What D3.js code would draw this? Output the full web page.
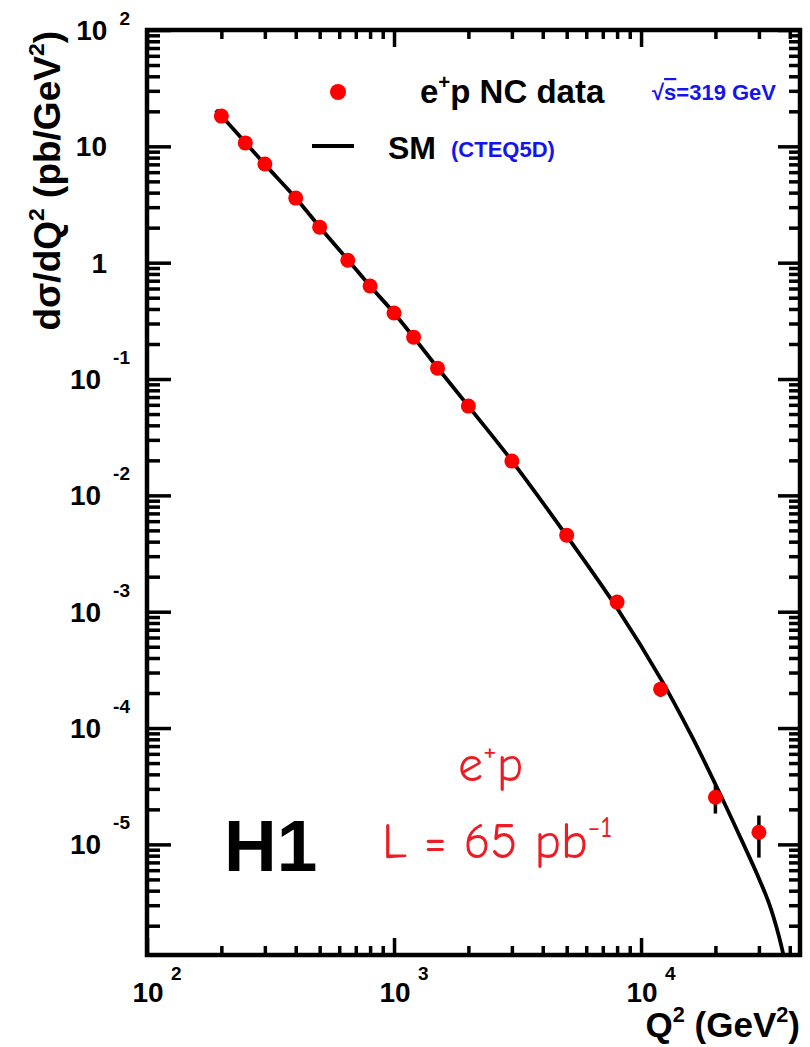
<!DOCTYPE html>
<html>
<head>
<meta charset="utf-8">
<script src="https://cdn.jsdelivr.net/npm/d3@7"></script>
<style>
  body { margin: 0; background: #fff; }
  text { font-family: "Liberation Sans", Arial, Helvetica, sans-serif; font-weight: bold; }
</style>
</head>
<body>
<div id="chart"></div>
<script>
// H1 e+p NC data, dsigma/dQ2
const q2 = [200, 250, 300, 400, 500, 650, 800, 1000, 1200, 1500, 2000, 3000, 5000, 8000, 12000, 20000, 30000];
const xsec = [18.2, 10.7, 7.05, 3.59, 2.02, 1.05, 0.63, 0.369, 0.229, 0.124, 0.0585, 0.0197, 0.00455, 0.00121, 2.16e-4, 2.54e-5, 1.27e-5];
const xsecErr = [0.4, 0.25, 0.15, 0.07, 0.04, 0.02, 0.012, 0.007, 0.005, 0.003, 0.0015, 0.0006, 0.00018, 0.00007, 0.3e-4, 0.7e-5, 0.5e-5];

// SM (CTEQ5D) curve
const smQ2 = [190, 200, 250, 300, 400, 500, 650, 800, 1000, 1200, 1500, 2000, 3000, 5000, 8000, 12000, 16000, 20000, 25000, 30000, 33000, 36000, 38500];
const smXsec = [20.5, 18.3, 10.8, 7.0, 3.6, 2.03, 1.06, 0.63, 0.37, 0.229, 0.125, 0.0585, 0.0198, 0.00448, 0.00107, 2.66e-4, 8.6e-5, 3.29e-5, 1.2e-5, 5.1e-6, 3.09e-6, 1.68e-6, 0.92e-6];

const yExponents = [-5, -4, -3, -2, -1, 0, 1, 2];
const xExponents = [2, 3, 4];

const W = 810, H = 1047;
const fL = 147, fR = 800, fT = 30, fB = 955;

const svg = d3.select("#chart").append("svg")
    .attr("width", W).attr("height", H);

const x = d3.scaleLog().domain([100, 44000]).range([fL, fR]);
const y = d3.scaleLog().domain([1.12e-6, 100]).range([fB, fT]);

// tick values
const yMajor = yExponents.map(e => Math.pow(10, e));
const yMinor = [];
for (let e = -6; e <= 1; e++) for (let m = 2; m <= 9; m++) {
    const v = m * Math.pow(10, e);
    if (v >= 1.12e-6 && v <= 100) yMinor.push(v);
}
const xMajor = xExponents.map(e => Math.pow(10, e));
const xMinor = [];
for (let e = 2; e <= 4; e++) for (let m = 2; m <= 9; m++) {
    const v = m * Math.pow(10, e);
    if (v <= 44000) xMinor.push(v);
}

function styleTicks(g) {
    g.select(".domain").remove();
    g.selectAll(".tick line").attr("stroke", "#000").attr("stroke-width", 3.5);
    g.selectAll(".tick text").remove();
}

// axes ticks (inward)
svg.append("g").attr("transform", `translate(${fL},0)`)
    .call(d3.axisLeft(y).tickValues(yMajor).tickSize(-24)).call(styleTicks);
svg.append("g").attr("transform", `translate(${fL},0)`)
    .call(d3.axisLeft(y).tickValues(yMinor).tickSize(-13)).call(styleTicks);
svg.append("g").attr("transform", `translate(${fR},0)`)
    .call(d3.axisRight(y).tickValues(yMajor).tickSize(-22)).call(styleTicks);
svg.append("g").attr("transform", `translate(${fR},0)`)
    .call(d3.axisRight(y).tickValues(yMinor).tickSize(-11)).call(styleTicks);
svg.append("g").attr("transform", `translate(0,${fB})`)
    .call(d3.axisBottom(x).tickValues(xMajor).tickSize(-17)).call(styleTicks);
svg.append("g").attr("transform", `translate(0,${fB})`)
    .call(d3.axisBottom(x).tickValues(xMinor).tickSize(-9)).call(styleTicks);
svg.append("g").attr("transform", `translate(0,${fT})`)
    .call(d3.axisTop(x).tickValues(xMajor).tickSize(-17)).call(styleTicks);
svg.append("g").attr("transform", `translate(0,${fT})`)
    .call(d3.axisTop(x).tickValues(xMinor).tickSize(-9)).call(styleTicks);

// frame
svg.append("rect")
    .attr("x", fL).attr("y", fT)
    .attr("width", fR - fL).attr("height", fB - fT)
    .attr("fill", "none").attr("stroke", "#000").attr("stroke-width", 4.5);

// y tick labels
yExponents.forEach(e => {
    const ty = y(Math.pow(10, e));
    if (e === 0 || e === 1) {
        svg.append("text").attr("x", 107).attr("y", ty + 10)
            .attr("text-anchor", "end").attr("font-size", 28)
            .text(e === 0 ? "1" : "10");
    } else {
        const ex = svg.append("text").attr("x", 130).attr("y", Math.max(ty - 15, 25))
            .attr("text-anchor", "end").attr("font-size", 19)
            .text(e < 0 ? "-" + Math.abs(e) : String(e));
        const w = ex.node().getComputedTextLength();
        svg.append("text").attr("x", 130 - w - 12).attr("y", ty + 10)
            .attr("text-anchor", "end").attr("font-size", 28)
            .text("10");
    }
});

// x tick labels
xExponents.forEach(e => {
    const tx = x(Math.pow(10, e));
    svg.append("text").attr("x", tx + 1).attr("y", 1002)
        .attr("text-anchor", "middle").attr("font-size", 28).text("10");
    svg.append("text").attr("x", tx + 24).attr("y", 980)
        .attr("font-size", 19).text(String(e));
});

// helper for text with superscripts
function rich(sel, parts, size) {
    parts.forEach(p => {
        if (p[1] === "sup") {
            sel.append("tspan").attr("dy", -size * 0.42).attr("font-size", size * 0.62).text(p[0]);
        } else {
            const t = sel.append("tspan").text(p[0]);
            if (p[2]) t.attr("dy", size * 0.42);
        }
    });
}

// axis titles
const xt = svg.append("text").attr("x", 800).attr("y", 1037)
    .attr("text-anchor", "end").attr("font-size", 35);
rich(xt, [["Q"], ["2", "sup"], [" (GeV", "n", true], ["2", "sup"], [")", "n", true]], 35);

const yt = svg.append("text")
    .attr("transform", "translate(60,31) rotate(-90)")
    .attr("text-anchor", "end").attr("font-size", 37);
rich(yt, [["dσ/dQ"], ["2", "sup"], [" (pb/GeV", "n", true], ["2", "sup"], [")", "n", true]], 37);

// plot clip
svg.append("clipPath").attr("id", "plotclip").append("rect")
    .attr("x", fL).attr("y", fT).attr("width", fR - fL).attr("height", fB - fT);

// SM curve
const smData = smQ2.map((q, i) => [q, smXsec[i]]);
const line = d3.line()
    .x(d => x(d[0]))
    .y(d => y(d[1]))
    .curve(d3.curveCatmullRom.alpha(0.5));
svg.append("path")
    .datum(smData)
    .attr("clip-path", "url(#plotclip)")
    .attr("fill", "none")
    .attr("stroke", "#000")
    .attr("stroke-width", 3.8)
    .attr("d", line);

// data: error bars then markers
const pts = q2.map((q, i) => ({ q: q, v: xsec[i], e: xsecErr[i] }));
svg.selectAll(".err").data(pts).enter().append("line")
    .attr("class", "err")
    .attr("x1", d => x(d.q)).attr("x2", d => x(d.q))
    .attr("y1", d => y(d.v + d.e)).attr("y2", d => y(Math.max(d.v - d.e, 1e-7)))
    .attr("stroke", "#000").attr("stroke-width", 3.5);
svg.selectAll(".pt").data(pts).enter().append("circle")
    .attr("class", "pt")
    .attr("cx", d => x(d.q)).attr("cy", d => y(d.v))
    .attr("r", 7.5).attr("fill", "#ff0000");

// legend
svg.append("circle").attr("cx", 338).attr("cy", 92).attr("r", 8).attr("fill", "#ff0000");
const l1 = svg.append("text").attr("x", 420).attr("y", 103).attr("font-size", 33);
rich(l1, [["e"], ["+", "sup"], ["p NC data", "n", true]], 33);
const rs = svg.append("text").attr("x", 652).attr("y", 100).attr("font-size", 22).attr("fill", "#1414f0");
rs.append("tspan").text("√");
rs.append("tspan").style("text-decoration", "overline").text("s");
rs.append("tspan").text("=319 GeV");

svg.append("line").attr("x1", 312).attr("x2", 354).attr("y1", 146).attr("y2", 146)
    .attr("stroke", "#000").attr("stroke-width", 4);
svg.append("text").attr("x", 388).attr("y", 159).attr("font-size", 32).text("SM");
svg.append("text").attr("x", 451).attr("y", 157).attr("font-size", 22).attr("fill", "#1414f0").text("(CTEQ5D)");

// H1 and luminosity labels
svg.append("text").attr("x", 224).attr("y", 871).attr("font-size", 73).text("H1");

const red = "#ec1c24";
const ep = svg.append("text").attr("x", 458).attr("y", 781)
    .attr("font-size", 50).attr("fill", red)
    .style("font-family", "'Comic Sans MS', 'Comic Neue', 'DejaVu Sans', sans-serif")
    .style("font-weight", "normal");
rich(ep, [["e"], ["+", "sup"], ["p", "n", true]], 50);

const lum = svg.append("text").attr("x", 382).attr("y", 858)
    .attr("font-size", 50).attr("fill", red)
    .style("font-family", "'Comic Sans MS', 'Comic Neue', 'DejaVu Sans', sans-serif")
    .style("font-weight", "normal");
rich(lum, [["L = 65 pb"], ["-1", "sup"]], 50);
</script>
</body>
</html>
